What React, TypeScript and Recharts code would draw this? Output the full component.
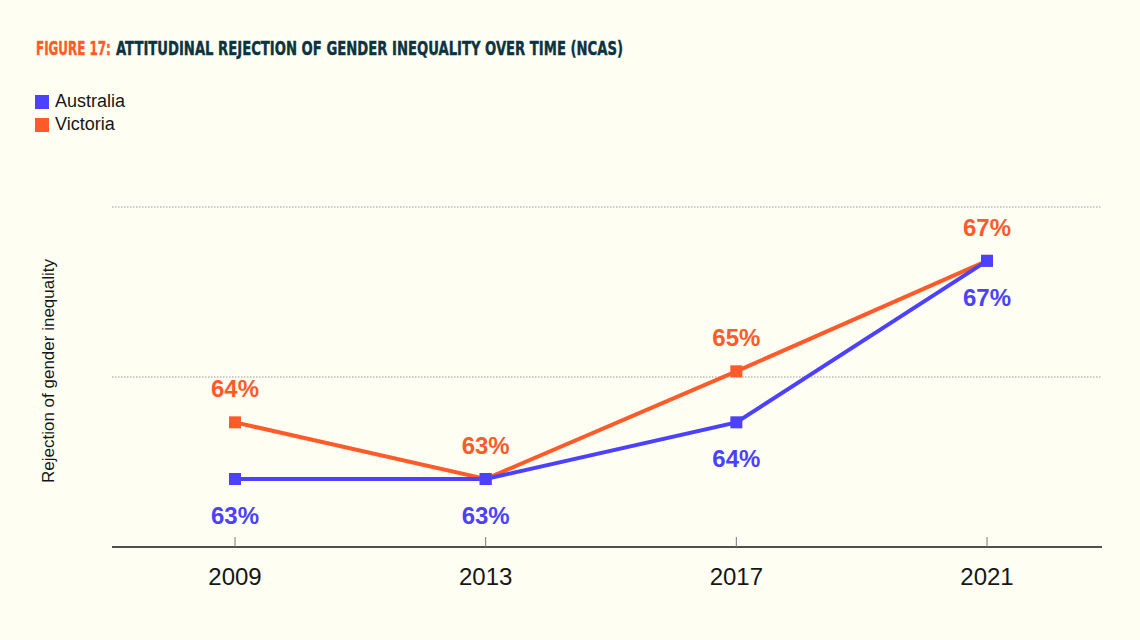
import React, { useLayoutEffect, useRef, useState } from 'react'
import {
  LineChart, Line, XAxis, YAxis, ReferenceLine, LabelList,
} from 'recharts'

// survey waves and results (% rejecting gender inequality)
const years = ['2009', '2013', '2017', '2021']
const australia = [63.2, 63.2, 64.2, 67.05]
const victoria = [64.2, 63.2, 65.1, 67.05]
const gridValues = [65, 68]

const BLUE = '#4B41FF'
const ORANGE = '#FF5A29'
const INK = '#161616'
const BG = '#FFFEF3'
const FONT = '"Liberation Sans", Arial, sans-serif'
const TITLE_FONT = '"DejaVu Sans Condensed", "DejaVu Sans", sans-serif'

const series = [
  { key: 'Australia', color: BLUE },
  { key: 'Victoria', color: ORANGE },
]

const data = years.map((year, i) => ({
  year,
  Australia: australia[i],
  Victoria: victoria[i],
}))

const pct = (v: unknown) => `${Math.round(Number(v))}%`

// squeeze the title text horizontally to mimic the condensed heading face
const TitlePart = ({ x, width, fill, children }: { x: number; width: number; fill: string; children: string }) => {
  const ref = useRef<SVGTextElement>(null)
  const [sx, setSx] = useState(1)
  useLayoutEffect(() => {
    const w = ref.current?.getComputedTextLength() || width
    setSx(width / w)
  }, [width])
  return (
    <g transform={`translate(${x},54.5) scale(${sx},1)`}>
      <text ref={ref} x={0} y={0} fontFamily={TITLE_FONT} fontWeight="bold" fontSize={19.5} fill={fill}
        stroke={fill} strokeWidth={0.4}>
        {children}
      </text>
    </g>
  )
}

const squareDot = (color: string) => (props: { cx?: number; cy?: number; index?: number }) => {
  const { cx = 0, cy = 0, index } = props
  return <rect key={`d-${color}-${index}`} x={cx - 6} y={cy - 6} width={12} height={12} fill={color} />
}

const YearTick = (props: { x?: number; y?: number; payload?: { value: string } }) => {
  const { x = 0, y = 0, payload } = props
  return (
    <g>
      <line x1={x} x2={x} y1={y - 10} y2={y} stroke="#7a7a7a" strokeWidth={1} />
      <text x={x} y={y + 38} textAnchor="middle" fontSize={24} fill={INK} fontFamily={FONT}>
        {payload?.value}
      </text>
    </g>
  )
}

export default function App() {
  return (
    <div style={{ position: 'absolute', left: 0, top: 0, width: 1140, height: 640, background: BG, overflow: 'hidden' }}>
      <svg width={1140} height={70} style={{ position: 'absolute', left: 0, top: 0 }}>
        <TitlePart x={36} width={75} fill={ORANGE}>FIGURE 17:</TitlePart>
        <TitlePart x={116} width={507} fill="#0B3440">ATTITUDINAL REJECTION OF GENDER INEQUALITY OVER TIME (NCAS)</TitlePart>
      </svg>

      <div style={{ position: 'absolute', left: 35, top: 90 }}>
        {series.map(s => (
          <div key={s.key} style={{ display: 'flex', alignItems: 'center', height: 23, fontSize: 18, color: INK, fontFamily: FONT }}>
            <span style={{ width: 14, height: 14, background: s.color, marginRight: 6, display: 'inline-block' }} />
            {s.key}
          </div>
        ))}
      </div>

      <div style={{
        position: 'absolute', left: 49, top: 371, transform: 'translate(-50%, -50%) rotate(-90deg)',
        whiteSpace: 'nowrap', fontSize: 17, color: INK, fontFamily: FONT,
      }}>
        Rejection of gender inequality
      </div>

      <LineChart
        width={1140} height={640} data={data}
        margin={{ top: 207, right: 38, bottom: 63, left: 112 }}
        style={{ position: 'absolute', left: 0, top: 0 }}
      >
        <XAxis
          dataKey="year"
          interval={0}
          padding={{ left: 123, right: 115 }}
          axisLine={{ stroke: INK, strokeWidth: 1.5 }}
          tickLine={false}
          tickSize={0}
          tickMargin={0}
          tick={<YearTick />}
        />
        <YAxis hide domain={[62, 68]} />
        {gridValues.map(v => (
          <ReferenceLine key={v} y={v} stroke="#9a9a9a" strokeWidth={1} strokeDasharray="1.5 1.5" />
        ))}
        <Line
          dataKey="Victoria" stroke={ORANGE} strokeWidth={4}
          dot={squareDot(ORANGE)} activeDot={false}
          isAnimationActive={false}
        >
          <LabelList dataKey="Victoria" position="top" offset={25} formatter={pct}
            fill={ORANGE} fontSize={24} fontWeight="bold" fontFamily={FONT} />
        </Line>
        <Line
          dataKey="Australia" stroke={BLUE} strokeWidth={4}
          dot={squareDot(BLUE)} activeDot={false}
          isAnimationActive={false}
        >
          <LabelList dataKey="Australia" position="bottom" offset={28} formatter={pct}
            fill={BLUE} fontSize={24} fontWeight="bold" fontFamily={FONT} />
        </Line>
      </LineChart>
    </div>
  )
}
